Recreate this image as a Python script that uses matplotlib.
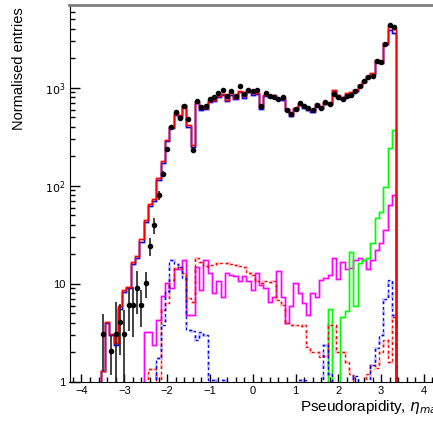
import numpy as np
import matplotlib
matplotlib.use("Agg")
import matplotlib.pyplot as plt
from matplotlib.ticker import FixedLocator, FixedFormatter, MultipleLocator

plt.rcParams['font.family'] = ['Liberation Sans', 'DejaVu Sans']
plt.rcParams['mathtext.fontset'] = 'dejavusans'

# bins of 0.1 in eta, from -3.55 to 3.35
edges = np.round(np.arange(-3.55, 3.351, 0.1), 3)
centres = 0.5 * (edges[1:] + edges[:-1])

red_mc = [1.3, 4.1, 3.1, 2.5, 5.9, 8.7, 9.4, 16.9, 19.3, 28.6,
          45, 65, 73, 120, 180, 295, 403, 552, 530, 671,
          419, 262, 725, 620, 630, 740, 760, 830, 870, 760,
          880, 790, 930, 820, 930, 880, 885, 640, 850, 830,
          840, 790, 780, 610, 540, 620, 690, 650, 610, 590,
          680, 640, 710, 700, 950, 840, 800, 880, 900, 960,
          1074, 1186, 1325, 1413, 1932, 1853, 2858, 4296, 3972]

blue_mc = [1.3, 4.0, 3.0, 2.4, 5.6, 8.3, 9.2, 16.0, 18.5, 27,
           43, 62, 70, 115, 172, 285, 390, 530, 510, 650,
           400, 250, 700, 600, 610, 715, 735, 800, 840, 735,
           850, 765, 900, 795, 900, 850, 860, 615, 820, 805,
           815, 765, 755, 590, 520, 600, 665, 630, 590, 570,
           655, 620, 690, 680, 920, 815, 775, 850, 870, 930,
           1040, 1150, 1280, 1370, 1870, 1800, 2780, 3900, 3600]

magenta = [0, 0, 0, 0, 0, 0, 0, 0, 0, 0,
           3.2, 3.2, 2.4, 4.3, 7.5, 10.2, 9.0, 14.3, 14.3, 17.6,
           4.8, 4.8, 15.0, 8.7, 17.6, 12.9, 8.0, 10.6, 7.4, 12.9,
           12.4, 12.1, 10.6, 12.1, 10.6, 8.7, 12.9, 9.8, 9.0, 6.6,
           7.4, 13.7, 7.4, 4.0, 5.9, 10.2, 8.1, 6.4, 4.8, 8.0,
           7.4, 11.0, 11.4, 12.4, 18.3, 11.2, 16.9, 14.1, 14.5, 17.6,
           18.3, 17.6, 14.1, 17.6, 22.2, 26, 35.6, 64, 81]

green = [0] * 53 + [5.5, 0, 0, 4.6, 5.3, 21.4, 5.9, 16.5, 17.5,
                    18.5, 26, 47, 54, 98, 243, 373]

red_dot = [0, 0, 0, 0, 0, 0, 0, 0, 0, 0,
           0, 1.35, 1.35, 0, 5.4, 6.4, 11, 14.5, 14.9, 12.9,
           7.2, 6.6, 18.3, 16.9, 15.3, 15.6, 15.6, 16.5, 16.5, 16.2,
           16.0, 15.6, 15.3, 15.0, 12.9, 12.4, 10.6, 10.2, 10.6, 10.4,
           10.6, 6.9, 6.1, 4.0, 3.8, 3.8, 3.7, 3.8, 2.3, 2.0,
           2.0, 1.8, 1.85, 3.8, 3.8, 2.0, 2.0, 1.6, 1.2, 0,
           0, 0, 1.2, 1.5, 1.4, 2.0, 2.7, 1.6, 4.6]

blue_dot = [0, 0, 0, 0, 0, 0, 0, 0, 0, 0,
            0, 0, 0, 1.75, 3.8, 8.5, 17.4, 16, 15, 11.4,
            3.4, 3.3, 2.7, 3.2, 3.0, 1.05, 1.05, 0, 1.05, 0,
            0, 0, 0, 0, 0, 0, 0, 0, 0, 0,
            0, 0, 0, 0, 0, 0, 1.05, 1.05, 0, 0,
            0, 0, 2.4, 1.2, 0, 0, 0, 0, 0, 1.15,
            0, 0, 0, 1.5, 2.2, 3.0, 7, 11, 4.8]

data = [3.1, 0, 2.07, 3.1, 4.1, 3.1, 6.1, 6.1, 9.2, 6.1,
        10.2, 24.4, 40, 80, 133, 239, 403, 565, 490, 655,
        483, 233, 730, 639, 650, 772, 809, 889, 961, 821,
        938, 821, 1038, 868, 946, 923, 946, 659, 889, 834,
        809, 778, 809, 600, 546, 614, 703, 648, 624, 590,
        664, 624, 719, 692, 868, 809, 778, 821, 855, 923,
        1056, 1167, 1294, 1336, 1871, 1843, 2769, 4361, 4159]

data_err = [1.8, 0, 0.9, 3.5, 2.2, 2.3, 2.8, 3.2, 4.3, 2.5,
            3.0, 5, 7.5, 8, 10, 12] + [15] * 53

W, H = 433, 423
fig = plt.figure(figsize=(W / 100, H / 100), dpi=100)
ax = fig.add_axes([69.5 / W, 41 / H, 366.4 / W, 377 / H])
ax.set_yscale('log')


def hist(vals, color, ls='-', lw=1.0, z=2):
    v = np.array(vals, dtype=float)
    v[v <= 0] = 1e-3
    ax.stairs(v, edges, baseline=1e-3, color=color, lw=lw * 2.0,
              alpha=0.25, ls=ls, zorder=z)
    ax.stairs(v, edges, baseline=1e-3, color=color, lw=lw,
              ls=ls, zorder=z + 0.1)


dots = (0, (2, 2))
hist(magenta, '#ff00ff', z=2)
hist(green, '#00ff00', z=2.2)
hist(red_dot, '#ff0000', ls=dots, z=2.4)
hist(blue_dot, '#0000ff', ls=dots, z=2.6)
hist(blue_mc, '#0000ff', z=3)
hist(red_mc, '#ff0000', z=3.4)

d = np.array(data, dtype=float)
e = np.array(data_err, dtype=float)
d[d <= 0] = np.nan
lo = np.minimum(e, d - 1e-3)
ax.errorbar(centres, d, yerr=[lo, e], fmt='o', ms=3.0, color='black',
            ecolor='#222222', elinewidth=1.2, capsize=0, zorder=5)

ax.set_xlim(-4.28, 4.28)
ax.set_ylim(1, 7000)

ax.xaxis.set_major_locator(MultipleLocator(1))
ax.xaxis.set_minor_locator(MultipleLocator(0.2))
ax.yaxis.set_major_locator(FixedLocator([1, 10, 100, 1000]))
ax.yaxis.set_major_formatter(FixedFormatter(['1', '10', r'$10^{2}$', r'$10^{3}$']))

ax.tick_params(axis='both', which='both', direction='in', top=False, right=False,
               labelsize=8)
ax.tick_params(axis='x', which='major', length=6, width=1, pad=3)
ax.tick_params(axis='x', which='minor', length=3.5, width=1)
ax.tick_params(axis='y', which='major', length=7, width=1, pad=3)
ax.tick_params(axis='y', which='minor', length=3.5, width=1)

ax.spines['top'].set_color('#808080')
ax.spines['top'].set_linewidth(2)
ax.spines['right'].set_visible(False)

fig.text(19 / W, 1 - 7 / H, 'Normalised entries', rotation=90,
         ha='center', va='top', fontsize=10.5)
fig.text(300 / W, 1 - 411 / H, r'Pseudorapidity, $\eta_{max}$',
         ha='left', va='baseline', fontsize=11)

fig.savefig('out.png', dpi=100)
